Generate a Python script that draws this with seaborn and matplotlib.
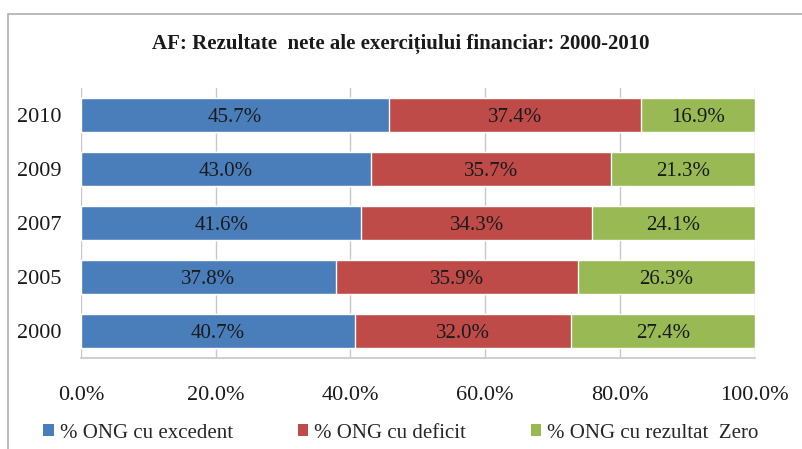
import numpy as np
import pandas as pd
import matplotlib.pyplot as plt
import seaborn as sns
from matplotlib.patches import Rectangle, Patch

# data
years = ['2010', '2009', '2007', '2005', '2000']
excedent = [45.7, 43.0, 41.6, 37.8, 40.7]
deficit = [37.4, 35.7, 34.3, 35.9, 32.0]
zero = [16.9, 21.3, 24.1, 26.3, 27.4]
series_names = ['% ONG cu excedent', '% ONG cu deficit', '% ONG cu rezultat  Zero']
colors = ['#4A7EBB', '#BE4B48', '#98B954']

df = pd.DataFrame({'year': years, 'exc': excedent, 'def': deficit, 'zero': zero})
df['c1'] = df['exc']
df['c2'] = df['exc'] + df['def']
df['c3'] = df['c2'] + df['zero']

sns.set_theme(style='white')
plt.rcParams['font.family'] = ['Liberation Serif', 'DejaVu Serif']

fig = plt.figure(figsize=(8.02, 4.49), dpi=100)
ax = fig.add_axes([0.101, 0.203, 0.840, 0.601])

# stacked bars: draw cumulative totals from the back to the front
for col, c in zip(['c3', 'c2', 'c1'], colors[::-1]):
    sns.barplot(data=df, y='year', x=col, orient='h', color=c, width=0.63,
                saturation=1, ax=ax, zorder=3)

# value labels in the middle of each segment
for i in range(len(years)):
    starts = [0, df['c1'][i], df['c2'][i]]
    vals = [df['exc'][i], df['def'][i], df['zero'][i]]
    for s, v in zip(starts, vals):
        ax.text(s + v / 2, i, f'{v:.1f}%', ha='center', va='center_baseline',
                fontsize=15, color='#1a1a1a', zorder=5)

ax.set_xlim(0, 100)
ax.set_ylim(4.5, -0.5)
ax.set_xticks(np.arange(0, 101, 20))
ax.set_xticklabels([f'{t:.1f}%' for t in np.arange(0, 101, 20)])
ax.grid(axis='x', color='#c8c8c8', linewidth=1, zorder=0)
ax.set_xlabel('')
ax.set_ylabel('')
for sp in ['top', 'right', 'left']:
    ax.spines[sp].set_visible(False)
ax.spines['bottom'].set_color('#c8c8c8')
ax.tick_params(axis='x', length=0, pad=20, labelsize=16, colors='#1a1a1a')
ax.tick_params(axis='y', length=0, pad=14, labelsize=16, colors='#1a1a1a')

fig.text(0.5, 0.902, 'AF: Rezultate  nete ale exercițiului financiar: 2000-2010',
         ha='center', va='center', fontsize=15, fontweight='bold', color='#1a1a1a')

handles = [Patch(facecolor=c, edgecolor='none') for c in colors]
fig.legend(handles, series_names, loc='center', bbox_to_anchor=(0.5, 0.035), ncol=3,
           frameon=False, fontsize=15, handlelength=0.5, handleheight=0.5,
           handletextpad=0.3, columnspacing=3.1)

# outer chart frame
fig.patches.append(Rectangle((0.01, -0.05), 1.2, 1.019, transform=fig.transFigure,
                             fill=False, edgecolor='#b0b0b0', linewidth=1.2))

fig.savefig('out.png', dpi=100, facecolor='white')
